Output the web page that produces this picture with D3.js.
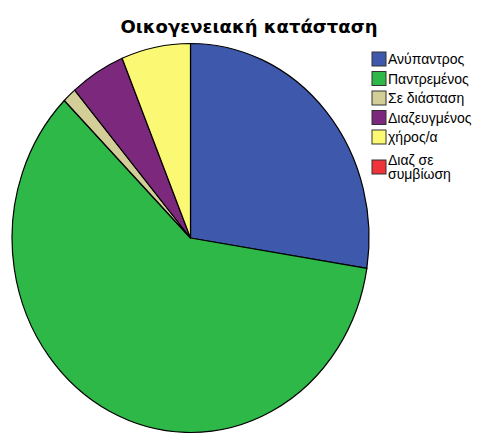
<!DOCTYPE html>
<html>
<head>
<meta charset="utf-8">
<script src="https://cdn.jsdelivr.net/npm/d3@7"></script>
<style>
  html, body { margin: 0; padding: 0; background: #fff; }
  svg { display: block; }
</style>
</head>
<body>
<svg id="chart" width="486" height="434"></svg>
<script>
// Marital status counts
const categories = ["Ανύπαντρος", "Παντρεμένος", "Σε διάσταση", "Διαζευγμένος", "χήρος/α", "Διαζ σε συμβίωση"];
const counts = [22, 48, 1, 4, 5, 0];
const colors = ["#3E58AC", "#2EB848", "#D3CE97", "#7C287D", "#FBF873", "#EF3338"];
const legendLines = [["Ανύπαντρος"], ["Παντρεμένος"], ["Σε διάσταση"], ["Διαζευγμένος"], ["χήρος/α"], ["Διαζ σε", "συμβίωση"]];
const title = "Οικογενειακή κατάσταση";

const svg = d3.select("#chart");
const W = 486, H = 434;

svg.append("rect").attr("width", W).attr("height", H).attr("fill", "#fff");

// Title
svg.append("text")
  .attr("x", 249).attr("y", 33)
  .attr("text-anchor", "middle")
  .attr("font-family", "DejaVu Sans, Verdana, sans-serif")
  .attr("font-weight", "bold")
  .attr("font-size", 18)
  .attr("fill", "#000")
  .text(title);

// Pie, starting at 12 o'clock and going clockwise; slightly taller than wide
const cx = 190.5, cy = 238, rx = 178.5, ry = 194.5;
const pie = d3.pie().sort(null).value(d => d.v).startAngle(0).endAngle(2 * Math.PI);
const arc = d3.arc().innerRadius(0).outerRadius(1);
const data = categories.map((c, i) => ({ c, v: counts[i], color: colors[i] }));

const g = svg.append("g").attr("transform", `translate(${cx},${cy}) scale(${rx},${ry})`);
g.selectAll("path")
  .data(pie(data).filter(d => d.data.v > 0))
  .join("path")
  .attr("d", arc)
  .attr("fill", d => d.data.color)
  .attr("stroke", "#000")
  .attr("stroke-width", 1.2)
  .attr("vector-effect", "non-scaling-stroke")
  .attr("stroke-linejoin", "round");

// Legend
const legend = svg.append("g").attr("font-family", "Liberation Sans, Arial, sans-serif").attr("font-size", 14);
const rowY = [59, 78.5, 98, 117.5, 137, 167];
categories.forEach((c, i) => {
  const y = rowY[i];
  legend.append("rect")
    .attr("x", 372).attr("y", y - 7)
    .attr("width", 14).attr("height", 14)
    .attr("fill", colors[i])
    .attr("stroke", "#333").attr("stroke-width", 1);
  const lines = legendLines[i];
  const lh = 14.5;
  lines.forEach((t, k) => {
    legend.append("text")
      .attr("x", 388)
      .attr("y", y + 5 - (lines.length - 1) * lh / 2 + k * lh)
      .attr("fill", "#000")
      .text(t);
  });
});
</script>
</body>
</html>
